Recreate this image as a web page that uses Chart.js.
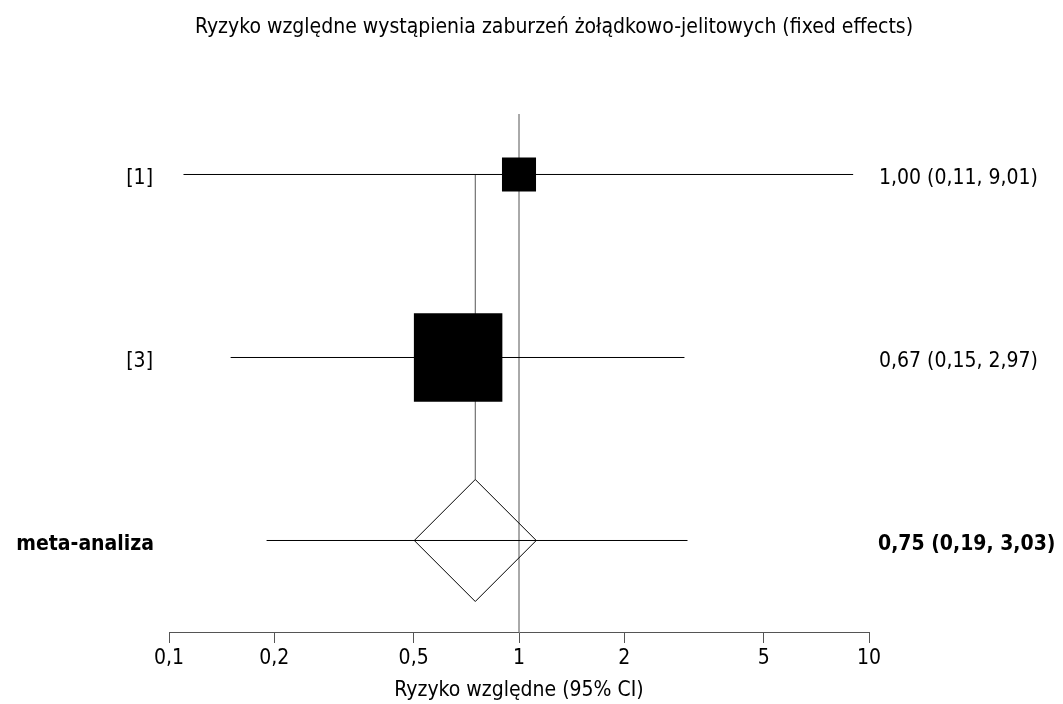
<!DOCTYPE html>
<html lang="pl">
<head>
<meta charset="utf-8">
<title>Ryzyko względne – forest plot</title>
<script src="https://cdn.jsdelivr.net/npm/chart.js@4/dist/chart.umd.min.js"></script>
<style>
  html, body { margin: 0; padding: 0; background: #ffffff; }
  #wrap { width: 1063px; height: 704px; }
  canvas { display: block; }
</style>
</head>
<body>
<div id="wrap"><canvas id="forest" width="1063" height="704"></canvas></div>
<script>
// ---- data -------------------------------------------------------------
const chartTitle = 'Ryzyko względne wystąpienia zaburzeń żołądkowo-jelitowych (fixed effects)';
const axisTitle = 'Ryzyko względne (95% CI)';

const studyLabels = ['[1]', '[3]'];
const studyRR = [1.00, 0.67];
const studyLow = [0.11, 0.15];
const studyHigh = [9.01, 2.97];
const studyWeight = [12.9, 87.1];   // % weight, sets the box area

const pooledLabel = 'meta-analiza';
const pooledRR = [0.75];
const pooledLow = [0.19];
const pooledHigh = [3.03];

const noEffect = [1];
const xTicks = [0.1, 0.2, 0.5, 1, 2, 5, 10];

// ---- look -------------------------------------------------------------
const FAMILY = "'DejaVu Sans Condensed', 'DejaVu Sans', sans-serif";
const FONT_SIZE = 21;
const BOX_SCALE = 9.48;        // box side in px per sqrt(weight)
const DIAMOND_RADIUS = 61;     // half-diagonal of the pooled diamond, px
const LINE_GREY = '#555555';

const decimal = v => String(v).replace('.', ',');
const fmt2 = v => v.toFixed(2).replace('.', ',');

// rows run from the top: studies first, pooled estimate last
const nRows = studyLabels.length + 1;
const studyRow = studyLabels.map((_, i) => nRows - i);
const pooledRow = 1;

// ---- datasets ---------------------------------------------------------
const datasets = [];

// study boxes (drawn on top)
studyLabels.forEach((lab, i) => {
  const side = BOX_SCALE * Math.sqrt(studyWeight[i]);
  datasets.push({
    label: lab + ' box',
    data: [{ x: studyRR[i], y: studyRow[i] }],
    pointStyle: 'rect',
    pointRadius: side / Math.SQRT2,
    pointHoverRadius: side / Math.SQRT2,
    backgroundColor: '#000000',
    borderColor: '#000000',
    borderWidth: 0,
    order: 0
  });
});

// pooled diamond (outline only)
datasets.push({
  label: pooledLabel + ' diamond',
  data: [{ x: pooledRR[0], y: pooledRow }],
  pointStyle: 'rectRot',
  pointRadius: DIAMOND_RADIUS,
  pointHoverRadius: DIAMOND_RADIUS,
  backgroundColor: 'rgba(0,0,0,0)',
  borderColor: '#000000',
  borderWidth: 1,
  order: 1
});

// confidence interval whiskers
studyLabels.forEach((lab, i) => {
  datasets.push({
    label: lab + ' CI',
    data: [{ x: studyLow[i], y: studyRow[i] }, { x: studyHigh[i], y: studyRow[i] }],
    showLine: true,
    borderColor: '#000000',
    borderWidth: 1,
    pointRadius: 0,
    order: 2
  });
});
datasets.push({
  label: pooledLabel + ' CI',
  data: [{ x: pooledLow[0], y: pooledRow }, { x: pooledHigh[0], y: pooledRow }],
  showLine: true,
  borderColor: '#000000',
  borderWidth: 1,
  pointRadius: 0,
  order: 2
});

// line of no effect, over the full plot height
const Y_MIN = 0.5;
const Y_MAX = nRows + 0.3306;
datasets.push({
  label: 'no effect',
  data: [{ x: noEffect[0], y: Y_MIN }, { x: noEffect[0], y: Y_MAX }],
  showLine: true,
  borderColor: LINE_GREY,
  borderWidth: 1,
  pointRadius: 0,
  order: 3
});

// ---- plugin: pooled-estimate guide and text columns -------------------
const forestText = {
  id: 'forestText',
  beforeDatasetsDraw(chart) {
    const { ctx, scales: { x, y } } = chart;
    const px = x.getPixelForValue(pooledRR[0]);
    const top = y.getPixelForValue(studyRow[0]);
    const bottom = y.getPixelForValue(pooledRow) - DIAMOND_RADIUS;
    ctx.save();
    ctx.strokeStyle = LINE_GREY;
    ctx.lineWidth = 1;
    ctx.beginPath();
    ctx.moveTo(px, top);
    ctx.lineTo(px, bottom);
    ctx.stroke();
    ctx.restore();
  },
  afterDraw(chart) {
    const { ctx, chartArea, scales: { y } } = chart;
    const leftX = chartArea.left - 16;
    const rightX = chartArea.right + 10;
    ctx.save();
    ctx.fillStyle = '#000000';
    ctx.textBaseline = 'middle';

    // title
    ctx.font = `normal ${FONT_SIZE}px ${FAMILY}`;
    ctx.textAlign = 'center';
    ctx.fillText(chartTitle, 554, 28);

    // study rows
    studyLabels.forEach((lab, i) => {
      const py = y.getPixelForValue(studyRow[i]) + 4;
      ctx.font = `normal ${FONT_SIZE}px ${FAMILY}`;
      ctx.textAlign = 'right';
      ctx.fillText(lab, leftX, py);
      ctx.textAlign = 'left';
      ctx.fillText(`${fmt2(studyRR[i])} (${fmt2(studyLow[i])}, ${fmt2(studyHigh[i])})`, rightX, py);
    });

    // pooled row
    const py = y.getPixelForValue(pooledRow) + 4;
    ctx.font = `bold ${FONT_SIZE}px ${FAMILY}`;
    ctx.textAlign = 'right';
    ctx.fillText(pooledLabel, leftX + 1, py);
    ctx.textAlign = 'left';
    ctx.fillText(`${fmt2(pooledRR[0])} (${fmt2(pooledLow[0])}, ${fmt2(pooledHigh[0])})`, rightX - 1, py);
    ctx.restore();
  }
};

// ---- chart ------------------------------------------------------------
new Chart(document.getElementById('forest'), {
  type: 'scatter',
  data: { datasets },
  options: {
    responsive: false,
    animation: false,
    devicePixelRatio: 1,
    layout: { padding: { left: 169, right: 194, top: 114, bottom: 0 } },
    plugins: {
      legend: { display: false },
      tooltip: { enabled: false },
      title: { display: false }
    },
    scales: {
      x: {
        type: 'logarithmic',
        position: 'bottom',
        min: xTicks[0],
        max: xTicks[xTicks.length - 1],
        afterBuildTicks(scale) {
          scale.ticks = xTicks.map(v => ({ value: v }));
        },
        afterFit(scale) { scale.height = 72; },
        ticks: {
          autoSkip: false,
          maxRotation: 0,
          color: '#000000',
          padding: 3,
          font: { family: FAMILY, size: FONT_SIZE },
          callback: v => decimal(v)
        },
        grid: {
          drawOnChartArea: false,
          drawTicks: true,
          tickLength: 11,
          color: LINE_GREY,
          lineWidth: 1
        },
        border: { display: true, color: LINE_GREY, width: 1 },
        title: {
          display: true,
          text: axisTitle,
          color: '#000000',
          font: { family: FAMILY, size: FONT_SIZE },
          padding: { top: 0, bottom: 1 }
        }
      },
      y: {
        type: 'linear',
        display: false,
        min: Y_MIN,
        max: Y_MAX
      }
    }
  },
  plugins: [forestText]
});
</script>
</body>
</html>
